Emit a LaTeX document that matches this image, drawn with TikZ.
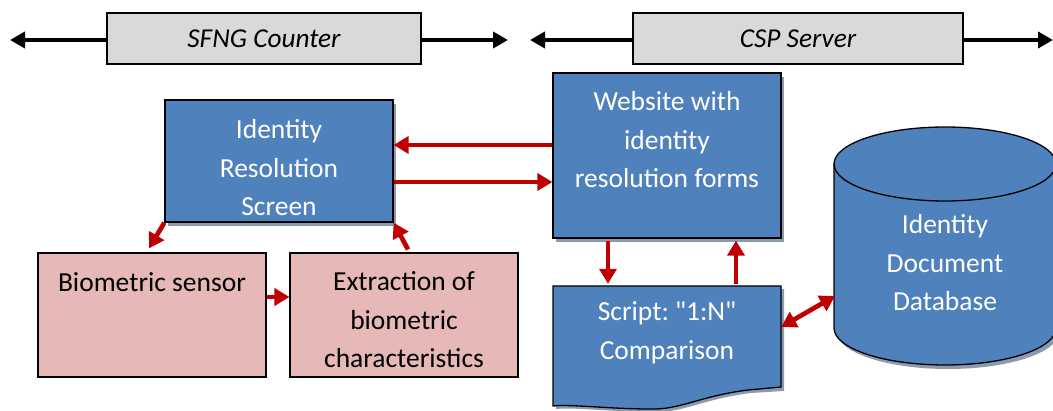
\documentclass[tikz,border=0pt]{standalone}
\usepackage{fontspec}
\setmainfont{Carlito}
\frenchspacing
\usetikzlibrary{arrows.meta,calc}
\definecolor{boxblue}{HTML}{4F81BD}
\definecolor{boxpink}{HTML}{E6B9B8}
\definecolor{boxgray}{HTML}{D9D9D9}
\definecolor{arrred}{HTML}{C00000}
\definecolor{shadowc}{HTML}{8C9AAE}
\begin{document}
\begin{tikzpicture}[x=1pt,y=-1pt,
  bluebox/.style={draw=black, line width=1.3pt, fill=boxblue, inner sep=0pt},
  pinkbox/.style={draw=black, line width=1.1pt, fill=boxpink, inner sep=0pt},
  graybox/.style={draw=black, line width=1.1pt, fill=boxgray, inner sep=0pt,
    font=\fontsize{27.3}{32}\selectfont\itshape},
  wtext/.style={text=white, align=center, font=\fontsize{27.5}{38.5}\selectfont},
  btext/.style={text=black, align=center, font=\fontsize{27.5}{38.5}\selectfont},
  redarrow/.style={draw=arrred, line width=4.7pt, -{Triangle[length=15pt,width=17pt]}},
  redboth/.style={draw=arrred, line width=4.7pt, {Triangle[length=15pt,width=17pt]}-{Triangle[length=15pt,width=17pt]}},
  blackarrow/.style={draw=black, line width=4pt, -{Triangle[length=15pt,width=16pt]}},
  shadow/.style={fill=shadowc}
]
\useasboundingbox (0,0) rectangle (1053,411);
\clip (0,0) rectangle (1053,411);

% top bars
\coordinate (la) at (10,40);
\coordinate (ra) at (508,40);
\coordinate (lb) at (530,40);
\coordinate (rb) at (1053,40);
\node[graybox, minimum width=314pt, minimum height=51pt] (sfng) at (264,38.5) {SFNG Counter};
\node[graybox, minimum width=330pt, minimum height=51pt] (csp) at (798,38.5) {CSP Server};
\draw[blackarrow] (sfng.west |- la) -- (la);
\draw[blackarrow] (sfng.east |- ra) -- (ra);
\draw[blackarrow] (csp.west |- lb) -- (lb);
\draw[blackarrow] (csp.east |- rb) -- (rb);

% shadows
\fill[shadow] (168,104) rectangle (396,226);
\fill[shadow] (556,77) rectangle (784,242);

% Identity resolution screen
\node[bluebox, minimum width=228pt, minimum height=122pt] (irs) at (279,161) {};
\begin{scope}
\clip (165,100) rectangle (393,221);
\node[wtext] (irst) at (279,168) {Identity\\Resolution\\Screen};
\end{scope}
\draw[line width=1.3pt] (irs.north west) rectangle (irs.south east);

% Website
\node[bluebox, minimum width=228pt, minimum height=165pt] (web) at (667,155.5) {};
\node[wtext] (webt) at (667,140) {Website with\\identity\\resolution forms};

% Biometric sensor and extraction
\node[pinkbox, minimum width=228pt, minimum height=124pt] (sensor) at (152,315) {};
\node[btext] (sensort) at (152,282) {Biometric sensor};
\node[pinkbox, minimum width=228pt, minimum height=124pt] (ext) at (404,315) {};
\node[btext] (extt) at (404,320) {Extraction of\\biometric\\characteristics};

% Script document shape
\fill[shadow] (556,289) -- (784,289) -- (784,391) -- (751,393)
  .. controls (703,399) and (683,413) .. (653,412)
  .. controls (613,412) and (573,407) .. (556,409) -- cycle;
\node[minimum width=228pt, minimum height=103pt, inner sep=0pt] (script) at (667,337.5) {};
\draw[line width=1.3pt, fill=boxblue] (553,286) -- (781,286) -- (781,387) -- (748,390)
  .. controls (700,396) and (680,410) .. (650,409)
  .. controls (610,409) and (570,404) .. (553,406) -- cycle;
\node[wtext] (scriptt) at (667,333) {Script: \textquotedbl 1:N\textquotedbl\\Comparison};

% Database cylinder
\fill[shadow] (837,168) -- (837,332) arc[start angle=180, end angle=0, x radius=111, y radius=37] -- (1059,168) -- cycle;
\fill[boxblue] (834,164) -- (834,328) arc[start angle=180, end angle=0, x radius=111, y radius=37] -- (1056,164) -- cycle;
\draw[line width=1.3pt] (834,164) -- (834,328) arc[start angle=180, end angle=0, x radius=111, y radius=37] -- (1056,164);
\draw[line width=1.3pt, fill=boxblue] (945,164) ellipse[x radius=111, y radius=37];
\node[wtext] (dbt) at (945,263) {Identity\\Document\\Database};
\coordinate (dbw) at (835,296);

% red connectors
\coordinate (y145) at (0,145);
\coordinate (y182) at (0,182);
\coordinate (x608) at (608,0);
\coordinate (x736) at (736,0);
\coordinate (y297) at (0,297);
\coordinate (y327) at (0,327);
\draw[redarrow] (web.west |- y145) -- (irs.east |- y145);
\draw[redarrow] (irs.east |- y182) -- (web.west |- y182);
\draw[redarrow] (irs.south west) -- ($(sensor.north)+(-3,-4)$);
\draw[redarrow] ($(ext.north)+(4,-3)$) -- (irs.south east);
\draw[redarrow] (sensor.east |- y297) -- (ext.west |- y297);
\draw[redarrow] ($(web.south -| x608)+(0,2)$) -- ($(script.north -| x608)+(0,-2)$);
\draw[redarrow] ($(script.north -| x736)+(0,-2)$) -- ($(web.south -| x736)+(0,2)$);
\draw[redboth] (script.east |- y327) -- (dbw);
\end{tikzpicture}
\end{document}
